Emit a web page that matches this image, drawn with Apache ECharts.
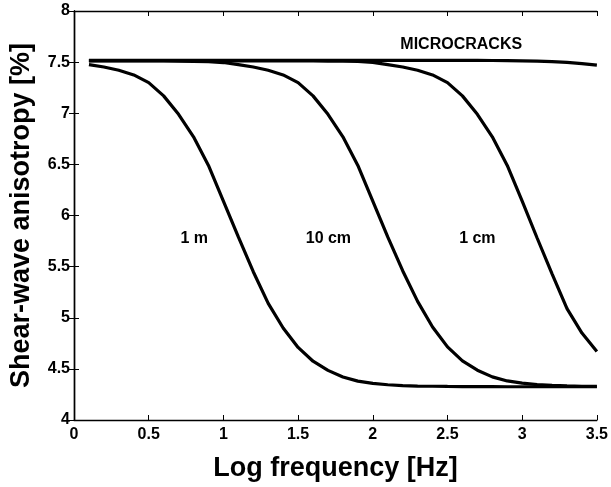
<!DOCTYPE html>
<html>
<head>
<meta charset="utf-8">
<script src="https://cdn.jsdelivr.net/npm/echarts@6/dist/echarts.min.js"></script>
<style>
html,body{margin:0;padding:0;background:#fff;}
#chart{width:611px;height:487px;}
</style>
</head>
<body>
<div id="chart"></div>
<script>
// Log frequency [Hz] sample positions
var logFreq = [0.1,0.2,0.3,0.4,0.5,0.6,0.7,0.8,0.9,1.0,1.1,1.2,1.3,1.4,1.5,1.6,1.7,1.8,1.9,2.0,2.1,2.2,2.3,2.4,2.5,2.6,2.7,2.8,2.9,3.0,3.1,3.2,3.3,3.4,3.5];

// Shear-wave anisotropy [%] for each crack size
var microcracks = [7.518,7.518,7.518,7.518,7.518,7.518,7.518,7.518,7.518,7.518,7.518,7.518,7.518,7.518,7.518,7.518,7.518,7.518,7.518,7.518,7.518,7.518,7.518,7.518,7.518,7.517,7.517,7.516,7.515,7.513,7.510,7.505,7.497,7.486,7.470];
var size1m = [7.475,7.452,7.42,7.375,7.30,7.17,6.99,6.77,6.49,6.14,5.79,5.45,5.14,4.90,4.71,4.575,4.485,4.42,4.38,4.358,4.345,4.337,4.332,4.330,4.328,4.327,4.326,4.326,4.325,4.325,4.325,4.325,4.325,4.325,4.325];
var size10cm = [7.512,7.512,7.512,7.512,7.511,7.511,7.510,7.508,7.505,7.496,7.475,7.452,7.42,7.375,7.30,7.17,6.99,6.77,6.49,6.14,5.79,5.46,5.16,4.91,4.715,4.578,4.487,4.422,4.382,4.36,4.346,4.338,4.333,4.330,4.328];
var size1cm = [7.514,7.514,7.514,7.514,7.514,7.514,7.514,7.514,7.513,7.513,7.513,7.513,7.512,7.512,7.512,7.511,7.510,7.509,7.506,7.497,7.475,7.452,7.42,7.375,7.30,7.17,6.99,6.77,6.49,6.14,5.78,5.43,5.09,4.85,4.67];

// In-plot annotations
var annoText = ['MICROCRACKS','1 m','10 cm','1 cm'];
var annoX = [2.592,0.805,1.703,2.70];
var annoY = [7.673,5.776,5.776,5.772];

// Axis ticks
var xTicks = {min:0, max:3.5, interval:0.5};
var yTicks = {min:4, max:8, interval:0.5};

function pairs(xs, ys){ return xs.map(function(x,i){ return [x, ys[i]]; }); }

var FONT = '"Liberation Sans", Arial, Helvetica, sans-serif';
var lineStyleCommon = {color:'#000', width:3.2};
function lineSeries(name, ys){
  return {
    name:name, type:'line', data:pairs(logFreq, ys), showSymbol:false, symbol:'none',
    smooth:false, lineStyle:lineStyleCommon, itemStyle:{color:'#000'},
    xAxisIndex:0, yAxisIndex:0, silent:true, animation:false, z:3
  };
}

var axisLineStyle = {show:true, lineStyle:{color:'#000', width:1.4}};
var tickStyle = {show:true, inside:true, length:5, lineStyle:{color:'#000', width:1}};

var chart = echarts.init(document.getElementById('chart'), null, {renderer:'canvas'});
chart.setOption({
  animation:false,
  backgroundColor:'#fff',
  grid:{left:73, right:12, top:11, bottom:63, containLabel:false},
  xAxis:[{
    type:'value', min:xTicks.min, max:xTicks.max, interval:xTicks.interval, position:'bottom',
    axisLine:axisLineStyle, axisTick:tickStyle, splitLine:{show:false},
    axisLabel:{show:true, margin:7, color:'#000', fontSize:16, fontWeight:'bold', fontFamily:FONT},
    name:'Log frequency [Hz]', nameLocation:'middle', nameGap:35,
    nameTextStyle:{color:'#000', fontSize:27, fontWeight:'bold', fontFamily:FONT}
  },{
    type:'value', min:xTicks.min, max:xTicks.max, interval:xTicks.interval, position:'top',
    axisLine:axisLineStyle, axisTick:tickStyle, splitLine:{show:false}, axisLabel:{show:false}
  }],
  yAxis:[{
    type:'value', min:yTicks.min, max:yTicks.max, interval:yTicks.interval, position:'left',
    axisLine:axisLineStyle, axisTick:tickStyle, splitLine:{show:false},
    axisLabel:{show:true, margin:4, color:'#000', fontSize:16, fontWeight:'bold', fontFamily:FONT},
    name:'Shear-wave anisotropy [%]', nameLocation:'middle', nameGap:39,
    nameTextStyle:{color:'#000', fontSize:27, fontWeight:'bold', fontFamily:FONT}
  },{
    type:'value', min:yTicks.min, max:yTicks.max, interval:yTicks.interval, position:'right',
    axisLine:axisLineStyle, axisTick:tickStyle, splitLine:{show:false}, axisLabel:{show:false}
  }],
  series:[
    lineSeries('MICROCRACKS', microcracks),
    lineSeries('1 m', size1m),
    lineSeries('10 cm', size10cm),
    lineSeries('1 cm', size1cm),
    {
      type:'scatter', xAxisIndex:0, yAxisIndex:0, symbolSize:0, silent:true,
      itemStyle:{color:'#000', opacity:0},
      data:annoText.map(function(t,i){ return {name:t, value:[annoX[i], annoY[i]]}; }),
      label:{show:true, position:'inside', formatter:'{b}', color:'#000', opacity:1,
             textBorderWidth:0, textBorderColor:'transparent',
             fontSize:16, fontWeight:'bold', fontFamily:FONT},
      z:4
    }
  ]
});
</script>
</body>
</html>
